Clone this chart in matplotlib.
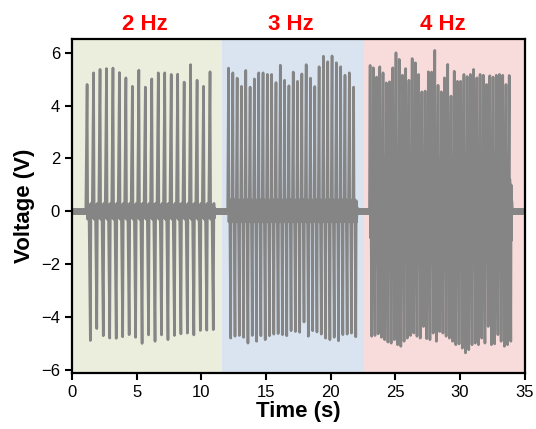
import numpy as np
import matplotlib
matplotlib.use("Agg")
import matplotlib.pyplot as plt
import matplotlib.transforms as mtransforms

plt.rcParams['font.family'] = ['Liberation Sans', 'DejaVu Sans']

# peak voltages, one value per cycle
pos_2hz = [4.80, 5.24, 5.37, 5.40, 5.42, 5.25, 5.05, 4.73, 5.34, 4.70,
           5.01, 5.24, 5.24, 5.18, 5.19, 4.89, 5.55, 4.96, 4.73, 5.28]
neg_2hz = [-4.89, -4.44, -4.71, -4.80, -4.81, -4.75, -4.67, -4.77, -5.00, -4.68,
           -4.92, -4.68, -4.86, -4.70, -4.64, -4.61, -4.68, -4.51, -4.50, -4.48]

pos_3hz = [5.42, 5.24, 5.04, 4.73, 5.33, 4.70, 5.01, 5.24, 5.24, 5.18,
           5.18, 4.87, 5.53, 4.96, 4.75, 5.27, 4.92, 5.20, 5.55, 5.04,
           4.72, 5.47, 5.87, 5.66, 5.88, 5.62, 5.47, 5.15, 5.24, 4.70]
neg_3hz = [-4.80, -4.73, -4.70, -4.77, -4.99, -4.70, -4.92, -4.71, -4.86, -4.71,
           -4.65, -4.63, -4.67, -4.71, -4.52, -4.55, -4.58, -4.19, -4.73, -4.52,
           -4.57, -4.65, -4.80, -4.86, -4.77, -4.90, -4.67, -4.65, -4.61, -4.75]

pos_4hz = [5.52, 5.43, 5.08, 5.47, 5.24, 4.86, 4.90, 5.43, 6.00, 5.75,
           5.15, 5.40, 4.96, 5.78, 5.62, 5.18, 4.52, 4.55, 5.28, 5.27,
           6.09, 4.77, 4.52, 5.05, 5.56, 4.36, 5.30, 4.92, 4.92, 5.18,
           5.10, 5.18, 5.37, 5.05, 5.18, 5.15, 4.80, 5.13, 5.08, 5.15,
           5.18, 5.15, 4.80, 5.14]
neg_4hz = [-4.73, -4.70, -4.64, -4.77, -4.86, -4.95, -4.99, -4.86, -5.05, -5.11,
           -4.92, -4.80, -4.70, -4.61, -4.73, -4.80, -4.36, -4.82, -4.86, -4.61,
           -4.92, -4.55, -4.61, -4.73, -4.80, -4.92, -5.05, -5.02, -5.18, -5.36,
           -5.24, -5.05, -4.99, -5.05, -4.80, -4.99, -4.36, -5.05, -5.02, -4.67,
           -4.92, -5.11, -5.05, -4.92]

# small ringing after each spike (V)
ring_2hz = ([-0.3, 0.25, -0.1], [0.3, -0.25, 0.1])
ring_3hz = ([-0.4, 0.45, -0.15], [0.4, -0.4, 0.15])
ring_4hz = ([-1.0, 1.2, -0.4], [1.0, -1.1, 0.4])

freqs = [2, 3, 4]
starts = [1.18, 12.11, 23.05]
labels = ['2 Hz', '3 Hz', '4 Hz']
label_x = [5.65, 16.9, 28.7]
spans = [(0, 11.6), (11.6, 22.6), (22.6, 35)]
span_colors = ['#ebeedd', '#d9e4f0', '#f8dcdc']

bursts = [(pos_2hz, neg_2hz, ring_2hz),
          (pos_3hz, neg_3hz, ring_3hz),
          (pos_4hz, neg_4hz, ring_4hz)]

t = [0.0]
v = [0.0]
for f, t0, (pos, neg, ring) in zip(freqs, starts, bursts):
    T = 1.0 / f
    t += [t0 - 0.2 * T]
    v += [0.0]
    for i in range(len(pos)):
        c = t0 + i * T
        t += [c, c + 0.1 * T, c + 0.2 * T, c + 0.3 * T,
              c + 0.5 * T, c + 0.6 * T, c + 0.7 * T, c + 0.8 * T]
        v += [pos[i]] + ring[0] + [neg[i]] + ring[1]
    t += [c + T]
    v += [0.0]
t += [35.0]
v += [0.0]

fig = plt.figure(figsize=(5.36, 4.29), dpi=100)
ax = fig.add_axes([0.134, 0.1305, 0.845, 0.778])

for (a, b), col in zip(spans, span_colors):
    ax.axvspan(a, b, color=col, lw=0, zorder=0)

ax.plot([0, 35], [0, 0], color='#858585', lw=5, zorder=1)
ax.plot(t, v, color='#858585', lw=1.9, zorder=2)

trans = mtransforms.blended_transform_factory(ax.transData, ax.transAxes)
for x, lab in zip(label_x, labels):
    ax.text(x, 1.045, lab, transform=trans, color='#ff0000',
            fontsize=16, fontweight='bold', ha='center', va='center')

ax.set_xlim(0, 35)
ax.set_ylim(-6.12, 6.51)
ax.set_xticks(range(0, 36, 5))
ax.set_yticks(range(-6, 7, 2))
ax.tick_params(direction='out', length=5, width=1.5, labelsize=12)
for s in ax.spines.values():
    s.set_linewidth(1.6)
ax.set_xlabel('Time (s)', fontsize=16, fontweight='bold', labelpad=1)
ax.set_ylabel('Voltage (V)', fontsize=16, fontweight='bold', labelpad=4)

fig.savefig('out.png', dpi=100)
